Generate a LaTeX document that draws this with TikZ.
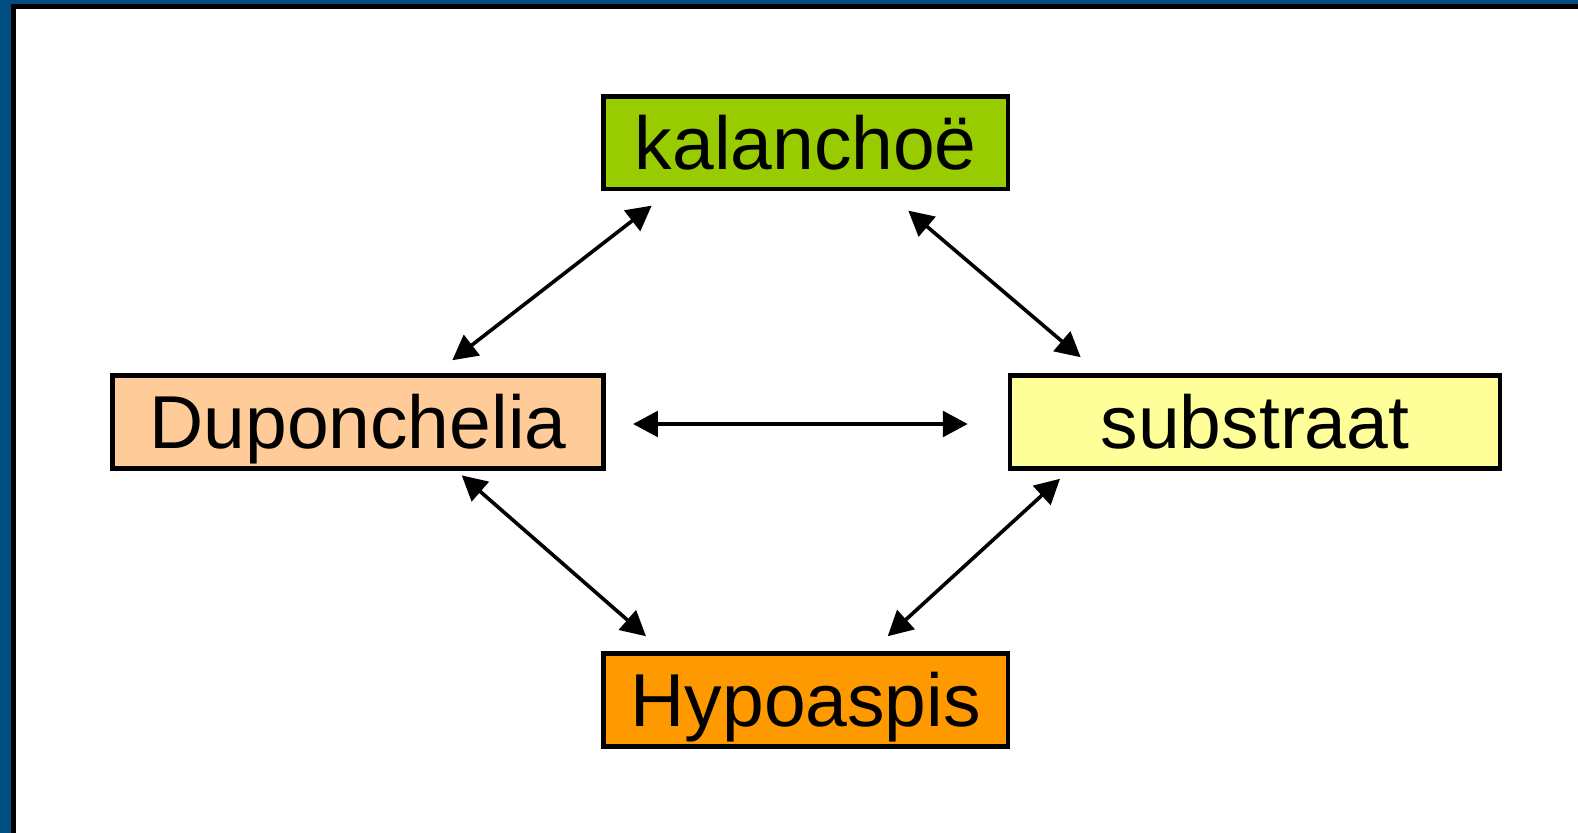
\documentclass[tikz,border=0pt]{standalone}
\usepackage{fontspec}
\setmainfont{Liberation Sans}
\usetikzlibrary{arrows.meta}

\definecolor{bordo}{RGB}{0,77,128}
\definecolor{verde}{RGB}{153,204,0}
\definecolor{pesca}{RGB}{255,204,153}
\definecolor{giallo}{RGB}{255,255,153}
\definecolor{arancio}{RGB}{255,153,0}

\tikzset{
  blocco/.style={draw, line width=2.3pt, inner sep=0pt, minimum height=46.25pt,
    text height=26.85pt, text depth=0pt, font=\fontsize{37.5}{45}\selectfont},
  freccia/.style={{Triangle[length=12.4pt,width=12.8pt]}-{Triangle[length=12.4pt,width=12.8pt]},
    line width=1.8pt}
}

\begin{document}
\begin{tikzpicture}[x=0.5pt, y=-0.5pt]
      % Sfondo e cornice
      \useasboundingbox (0,0) rectangle (1578,833);
      \fill[bordo] (0,0) rectangle (1578,833);
      \fill[black] (11,4) rectangle (1578,833);
      \fill[white] (16,9) rectangle (1578,833);

      % Disegno dei nodi
      \node[blocco, fill=verde, minimum width=202.25pt] (kal) at (805.8,142.8) {kalanchoë};
      \node[blocco, fill=pesca, minimum width=245.25pt] (dup) at (358,422) {Duponchelia};
      \node[blocco, fill=giallo, minimum width=245pt] (sub) at (1255,422) {substraat};
      \node[blocco, fill=arancio, minimum width=202.25pt] (hyp) at (805.8,700) {Hypoaspis};

      % Disegno degli archi
      \draw[freccia] ([shift={(94.3,-13.2)}]dup.north) -- ([shift={(-154.1,14.3)}]kal.south);
      \draw[freccia] ([shift={(102.5,19.3)}]kal.south) -- ([shift={(-174.3,-16.2)}]sub.north);
      \draw[freccia] ([shift={(27.5,2)}]dup.east) -- ([shift={(-40,2)}]sub.west);
      \draw[freccia] ([shift={(103.7,4.8)}]dup.south) -- ([shift={(-159.8,-15.2)}]hyp.north);
      \draw[freccia] ([shift={(-195,8.2)}]sub.south) -- ([shift={(81.9,-15.2)}]hyp.north);
    \end{tikzpicture}
\end{document}
